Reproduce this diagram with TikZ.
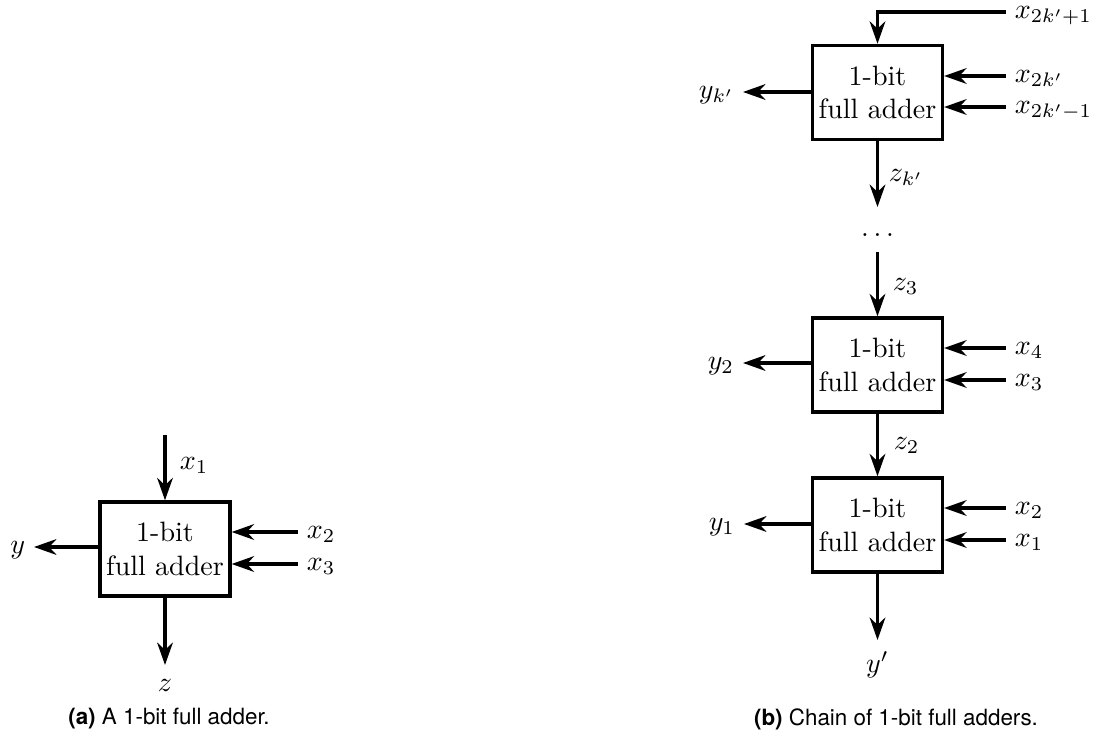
\documentclass[tikz,border=0pt]{standalone}
\usepackage{fontspec}
\setsansfont{TeX Gyre Heros}
\usetikzlibrary{arrows.meta}
\begin{document}
\begin{tikzpicture}[x=0.35714pt,y=-0.35714pt,
  adder/.style={draw,very thick,minimum width=46.4pt,minimum height=33.6pt,inner sep=0pt,align=center},
  sig/.style={very thick,-{Stealth[length=8pt,width=5.6pt,inset=2.6pt]}},
  lab/.style={inner sep=3pt,text height=1.6ex,text depth=0.5ex},
  captxt/.style={font=\sffamily\fontsize{8}{9.6}\selectfont}]
\useasboundingbox (0,0) rectangle (1096,740);

% ---------- (a) ----------
\node[adder] (A) at (165,549) {1-bit\\full adder};
\coordinate (ain) at (165,435);
\coordinate (aout) at (165,665);
\node[lab,anchor=west] (ax1) at (171,463) {$x_1$};
\node[lab,anchor=west] (ax2) at (298,532) {$x_2$};
\node[lab,anchor=west] (ax3) at (298,564) {$x_3$};
\node[lab,anchor=east] (ay) at (34,547) {$y$};
\node (az) at (165,685) {$z$};
\draw[sig] (ain) -- (A.north);
\draw[sig] (ax2.west) -- (ax2.west -| A.east);
\draw[sig] (ax3.west) -- (ax3.west -| A.east);
\draw[sig] (ay.east -| A.west) -- (ay.east);
\draw[sig] (A.south) -- (aout);
\node[captxt] (capa) at (169,719) {\textbf{(a)} A 1-bit full adder.};

% ---------- (b) ----------
\node[adder] (T) at (877.5,92.5) {1-bit\\full adder};
\node[adder] (M) at (877.5,365) {1-bit\\full adder};
\node[adder] (B) at (877.5,525) {1-bit\\full adder};

\node[lab,anchor=west] (tx3) at (1006,12) {$x_{2k'+1}$};
\node[lab,anchor=west] (tx2) at (1006,76) {$x_{2k'}$};
\node[lab,anchor=west] (tx1) at (1006,107) {$x_{2k'-1}$};
\node[lab,anchor=east] (ty) at (743,92) {$y_{k'}$};
\node[lab,anchor=west] (tz) at (880,175) {$z_{k'}$};
\coordinate (tout) at (877.5,207);
\node[inner sep=0pt] (dots) at (877.5,235) {$\dots$};
\coordinate (min) at (877.5,252);
\node[lab,anchor=west] (mz) at (884,284) {$z_3$};
\node[lab,anchor=west] (mx4) at (1006,348) {$x_4$};
\node[lab,anchor=west] (mx3) at (1006,380) {$x_3$};
\node[lab,anchor=east] (my) at (743,363) {$y_2$};
\node[lab,anchor=west] (bz) at (885,443) {$z_2$};
\node[lab,anchor=west] (bx2) at (1006,508) {$x_2$};
\node[lab,anchor=west] (bx1) at (1006,540) {$x_1$};
\node[lab,anchor=east] (by) at (744,524) {$y_1$};
\coordinate (bout) at (877.5,640);
\node (byp) at (877.5,665) {$y'$};

\draw[sig] (tx3.west) -| (T.north);
\draw[sig] (tx2.west) -- (tx2.west -| T.east);
\draw[sig] (tx1.west) -- (tx1.west -| T.east);
\draw[sig] (ty.east -| T.west) -- (ty.east);
\draw[sig] (T.south) -- (tout);
\draw[sig] (min) -- (M.north);
\draw[sig] (mx4.west) -- (mx4.west -| M.east);
\draw[sig] (mx3.west) -- (mx3.west -| M.east);
\draw[sig] (my.east -| M.west) -- (my.east);
\draw[sig] (M.south) -- (B.north);
\draw[sig] (bx2.west) -- (bx2.west -| B.east);
\draw[sig] (bx1.west) -- (bx1.west -| B.east);
\draw[sig] (by.east -| B.west) -- (by.east);
\draw[sig] (B.south) -- (bout);
\node[captxt] (capb) at (896,719) {\textbf{(b)} Chain of 1-bit full adders.};
\end{tikzpicture}
\end{document}
